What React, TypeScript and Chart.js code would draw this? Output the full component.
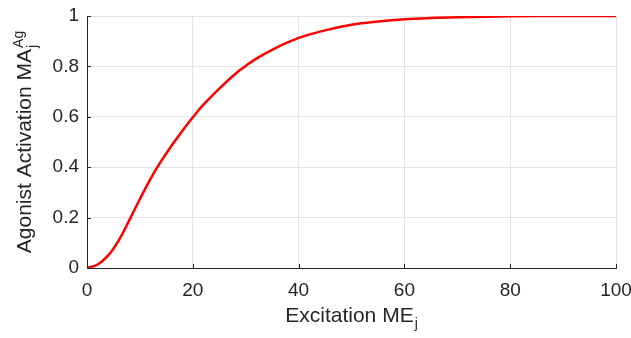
import React, { useEffect, useRef } from "react";
import { Chart, registerables } from "chart.js";

Chart.register(...registerables);

// ---- data ----
const excitation: number[] = [0, 2, 4, 6, 8, 10, 12, 14, 16, 18, 20, 22, 25, 28, 30, 32, 35, 40, 45, 50, 55, 60, 65, 70, 80, 90, 100];
const activation: number[] = [0, 0.014, 0.05, 0.11, 0.19, 0.274, 0.354, 0.424, 0.486, 0.544, 0.598, 0.648, 0.712, 0.77, 0.802, 0.831, 0.866, 0.913, 0.943, 0.965, 0.978, 0.987, 0.992, 0.995, 0.999, 1, 1];

const xTicks: number[] = [0, 20, 40, 60, 80, 100];
const yTicks: number[] = [0, 0.2, 0.4, 0.6, 0.8, 1];

const xTitleMain = "Excitation ME";
const xTitleSub = "j";
const yTitleMain = "Agonist Activation MA";
const yTitleSup = "Ag";
const yTitleSub = "j";

// ---- styles ----
const FONT = "'Liberation Sans', Arial, Helvetica, sans-serif";
const TEXT_COLOR = "#262626";
const AXIS_COLOR = "#262626";
const GRID_COLOR = "#e3e3e3";
const LINE_COLOR = "#ff0000";
const TICK_SIZE = 19;
const TITLE_SIZE = 21;
const SCRIPT_SIZE = 14;
const TICK_LEN = 4;

const axisDecor = {
  id: "axisDecor",
  afterDraw(chart: any) {
    const { ctx, chartArea: a, scales } = chart;
    const xs = scales.x;
    const ys = scales.y;
    ctx.save();
    // inward tick marks
    ctx.strokeStyle = AXIS_COLOR;
    ctx.lineWidth = 1;
    ctx.beginPath();
    xs.ticks.forEach((t: any) => {
      const px = Math.round(xs.getPixelForValue(t.value)) + 0.5;
      ctx.moveTo(px, a.bottom);
      ctx.lineTo(px, a.bottom - TICK_LEN);
    });
    ys.ticks.forEach((t: any) => {
      const py = Math.round(ys.getPixelForValue(t.value)) + 0.5;
      ctx.moveTo(a.left, py);
      ctx.lineTo(a.left + TICK_LEN, py);
    });
    ctx.stroke();

    ctx.fillStyle = TEXT_COLOR;
    ctx.textAlign = "left";
    ctx.textBaseline = "alphabetic";

    // x title with subscript
    ctx.font = `${TITLE_SIZE}px ${FONT}`;
    const xMainW = ctx.measureText(xTitleMain).width;
    ctx.font = `${SCRIPT_SIZE}px ${FONT}`;
    const xSubW = ctx.measureText(xTitleSub).width;
    const xTotal = xMainW + 1 + xSubW;
    const xStart = (a.left + a.right) / 2 - xTotal / 2;
    const xBase = a.bottom + 54;
    ctx.font = `${TITLE_SIZE}px ${FONT}`;
    ctx.fillText(xTitleMain, xStart, xBase);
    ctx.font = `${SCRIPT_SIZE}px ${FONT}`;
    ctx.fillText(xTitleSub, xStart + xMainW + 1, xBase + 6);

    // y title with superscript and subscript, rotated
    ctx.font = `${TITLE_SIZE}px ${FONT}`;
    const yMainW = ctx.measureText(yTitleMain).width;
    ctx.font = `${SCRIPT_SIZE}px ${FONT}`;
    const ySupW = ctx.measureText(yTitleSup).width;
    const ySubW = ctx.measureText(yTitleSub).width;
    const yTotal = yMainW + 1 + Math.max(ySupW, ySubW);
    const cy = (a.top + a.bottom) / 2;
    ctx.translate(31, cy);
    ctx.rotate(-Math.PI / 2);
    const s = -yTotal / 2;
    ctx.font = `${TITLE_SIZE}px ${FONT}`;
    ctx.fillText(yTitleMain, s, 0);
    ctx.font = `${SCRIPT_SIZE}px ${FONT}`;
    ctx.fillText(yTitleSup, s + yMainW + 1, -8);
    ctx.fillText(yTitleSub, s + yMainW + 1, 6);
    ctx.restore();
  },
};

export default function App() {
  const canvasRef = useRef<HTMLCanvasElement | null>(null);

  useEffect(() => {
    document.body.style.margin = "0";
    const canvas = canvasRef.current;
    if (!canvas) return;
    const points = excitation.map((x, i) => ({ x, y: activation[i] }));
    const chart = new Chart(canvas, {
      type: "line",
      data: {
        datasets: [
          {
            data: points,
            borderColor: LINE_COLOR,
            backgroundColor: LINE_COLOR,
            borderWidth: 2.5,
            pointRadius: 0,
            tension: 0.4,
            fill: false,
          },
        ],
      },
      options: {
        animation: false,
        responsive: false,
        devicePixelRatio: 1,
        layout: { padding: { top: 16, right: 15, left: 0, bottom: 0 } },
        plugins: { legend: { display: false }, tooltip: { enabled: false } },
        scales: {
          x: {
            type: "linear",
            min: 0,
            max: 100,
            afterBuildTicks: (scale: any) => {
              scale.ticks = xTicks.map((v) => ({ value: v }));
            },
            afterFit: (scale: any) => {
              scale.height = 70;
              scale.paddingLeft = 0;
              scale.paddingRight = 0;
            },
            ticks: {
              color: TEXT_COLOR,
              font: { family: FONT, size: TICK_SIZE },
              padding: 11,
              maxRotation: 0,
              callback: (v: any) => String(v),
            },
            grid: { color: GRID_COLOR, drawTicks: false, lineWidth: 1 },
            border: { display: true, color: AXIS_COLOR, width: 1 },
          },
          y: {
            type: "linear",
            min: 0,
            max: 1,
            afterBuildTicks: (scale: any) => {
              scale.ticks = yTicks.map((v) => ({ value: v }));
            },
            afterFit: (scale: any) => {
              scale.width = 87;
              scale.paddingTop = 0;
              scale.paddingBottom = 0;
            },
            ticks: {
              color: TEXT_COLOR,
              font: { family: FONT, size: TICK_SIZE },
              padding: 8,
              callback: (v: any) => String(parseFloat(Number(v).toFixed(2))),
            },
            grid: { color: GRID_COLOR, drawTicks: false, lineWidth: 1 },
            border: { display: true, color: AXIS_COLOR, width: 1 },
          },
        },
      },
      plugins: [axisDecor],
    } as any);
    return () => chart.destroy();
  }, []);

  return (
    <div style={{ position: "fixed", left: 0, top: 0, width: 631, height: 338, background: "#fff" }}>
      <canvas ref={canvasRef} width={631} height={338} style={{ display: "block" }} />
    </div>
  );
}
